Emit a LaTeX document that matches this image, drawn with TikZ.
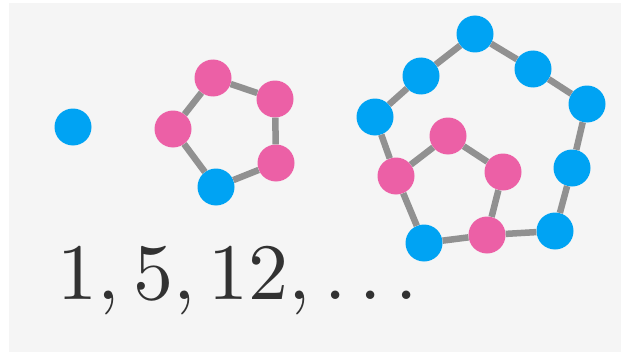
\documentclass[tikz,border=0pt]{standalone}
\usepackage{amsmath}
\usepackage{tikz}
\usetikzlibrary{positioning, calc}

\definecolor{dotblue}{RGB}{0,163,243}
\definecolor{dotpink}{RGB}{236,96,166}
\definecolor{edgegray}{RGB}{145,145,145}
\definecolor{bggray}{RGB}{245,245,245}
\definecolor{textgray}{RGB}{50,50,50}

\begin{document}
\begin{tikzpicture}[x=1pt, y=-1pt]

        % --- styles ---
        \tikzstyle{blue dot} = [circle, fill=dotblue, inner sep=0pt, minimum size=37pt]
        \tikzstyle{pink dot} = [circle, fill=dotpink, inner sep=0pt, minimum size=37pt]
        \tikzstyle{link} = [draw=edgegray, line width=6.5pt]

        % --- background ---
        \useasboundingbox (0,0) rectangle (621,353);
        \fill[white] (0,0) rectangle (621,353);
        \fill[bggray] (9,3) rectangle (621,352);

        % 1. single dot
        \node (single) [blue dot] at (73,127) {};

        % 2. small pentagon
        \node (s1) [pink dot] at (213,78) {};
        \node (s2) [pink dot] at (275,99) {};
        \node (s3) [pink dot] at (276,163) {};
        \node (s4) [blue dot] at (216,187) {};
        \node (s5) [pink dot] at (173,129) {};

        % 3. big pentagon (outer ring)
        \node (b1) [blue dot] at (375,117) {};
        \node (b2) [blue dot] at (421,76) {};
        \node (b3) [blue dot] at (475,34) {};
        \node (b4) [blue dot] at (533,69) {};
        \node (b5) [blue dot] at (587,104) {};
        \node (b6) [blue dot] at (572,168) {};
        \node (b7) [blue dot] at (555,231) {};
        \node (b8) [pink dot] at (487,235) {};
        \node (b9) [blue dot] at (424,243) {};
        \node (b10) [pink dot] at (396,176) {};

        % inner pentagon
        \node (i1) [pink dot] at (448,136) {};
        \node (i2) [pink dot] at (503,172) {};

        % --- edges ---
        \draw[link] (s1) -- (s2) -- (s3) -- (s4) -- (s5) -- (s1);
        \foreach \a/\b in {b1/b2, b2/b3, b3/b4, b4/b5, b5/b6, b6/b7, b7/b8, b8/b9, b9/b10, b10/b1}
            \draw[link] (\a) -- (\b);
        \draw[link] (b10) -- (i1) -- (i2) -- (b8);

        % --- sequence ---
        \node (seq) [anchor=base west, text=textgray, inner sep=0pt, scale=8] at (56,299)
            {$1, 5, 12, \ldots$};

\end{tikzpicture}
\end{document}
